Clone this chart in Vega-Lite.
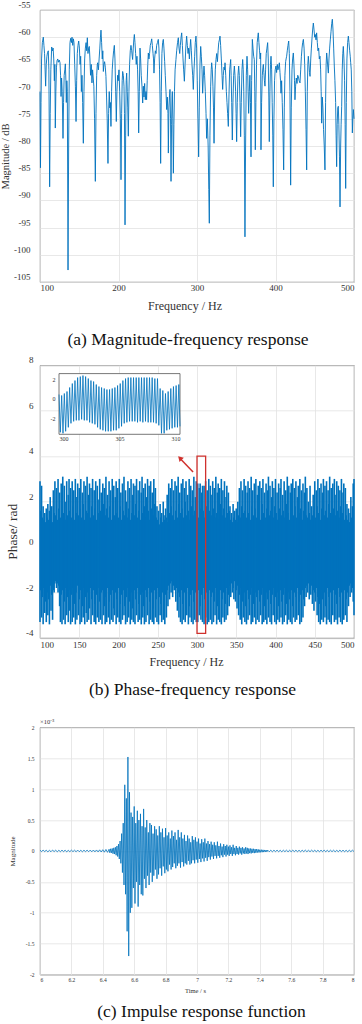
{
"$schema": "https://vega.github.io/schema/vega-lite/v6.json",
"padding": 0,
"background": "white",
"config": {
  "view": {"stroke": "#555555", "strokeWidth": 0.8},
  "axis": {"grid": true, "gridColor": "#e2e2e2", "gridWidth": 0.8, "domain": false, "ticks": false, "labelOverlap": false, "tickCount": 30, "labelFont": "Liberation Serif", "titleFont": "Liberation Serif", "labelColor": "#333333", "titleColor": "#333333", "titleFontWeight": "normal"},
  "title": {"font": "Liberation Serif", "fontWeight": "normal", "color": "#111111"}
},
"datasets": {
"mag": [
{"f":100,"m":-70},{"f":100.6,"m":-84},{"f":101.3,"m":-72},{"f":102,"m":-64},{"f":103,"m":-61},{"f":104.2,"m":-60},{"f":105,"m":-61.5},{"f":105.8,"m":-63},{"f":106.5,"m":-66},{"f":107.2,"m":-69},{"f":108,"m":-65},{"f":108.8,"m":-63.5},{"f":109.6,"m":-62.8},{"f":110.6,"m":-62.5},{"f":111.3,"m":-66},{"f":112.3,"m":-87.5},{"f":113,"m":-74},{"f":113.8,"m":-66},{"f":114.9,"m":-61.8},{"f":115.8,"m":-62.5},{"f":116.7,"m":-62},{"f":117.5,"m":-64},{"f":118.3,"m":-68},{"f":118.9,"m":-65},{"f":119.5,"m":-76.7},{"f":120.2,"m":-70},{"f":121,"m":-65.5},{"f":121.7,"m":-64.3},{"f":122.6,"m":-64},{"f":123.5,"m":-64.6},{"f":124.5,"m":-64.2},{"f":125.5,"m":-64.7},{"f":126.2,"m":-67},{"f":126.8,"m":-70.9},{"f":127.5,"m":-67.5},{"f":128.3,"m":-70},{"f":129.3,"m":-78.6},{"f":130,"m":-72},{"f":130.8,"m":-67},{"f":131.6,"m":-66},{"f":132.3,"m":-64.9},{"f":133,"m":-68},{"f":133.5,"m":-72},{"f":134.2,"m":-68},{"f":134.8,"m":-70},{"f":135.7,"m":-102.8},{"f":136.5,"m":-80},{"f":137.3,"m":-66},{"f":138.2,"m":-61},{"f":139.1,"m":-60.2},{"f":140,"m":-61},{"f":140.8,"m":-60},{"f":141.7,"m":-61.5},{"f":142.5,"m":-60.3},{"f":143.3,"m":-61},{"f":144.2,"m":-65},{"f":145.1,"m":-69},{"f":145.9,"m":-75.5},{"f":146.7,"m":-68},{"f":147.5,"m":-63},{"f":148.4,"m":-61.5},{"f":149.3,"m":-60.7},{"f":150.2,"m":-62},{"f":151,"m":-65},{"f":151.8,"m":-63.5},{"f":152.7,"m":-70},{"f":153.5,"m":-67},{"f":154.3,"m":-72},{"f":155.2,"m":-79.5},{"f":156,"m":-70},{"f":156.9,"m":-64},{"f":157.8,"m":-62},{"f":158.7,"m":-61},{"f":159.5,"m":-62.5},{"f":160.3,"m":-60.1},{"f":161.1,"m":-63},{"f":162,"m":-62},{"f":162.8,"m":-61.7},{"f":163.6,"m":-64},{"f":164.4,"m":-67},{"f":165.3,"m":-65},{"f":166.2,"m":-68.4},{"f":167,"m":-66},{"f":167.8,"m":-67.5},{"f":168.6,"m":-69},{"f":169.5,"m":-75},{"f":170.5,"m":-86.5},{"f":171.3,"m":-74},{"f":172.2,"m":-67},{"f":173,"m":-65},{"f":173.5,"m":-64.7},{"f":174.4,"m":-66},{"f":175.3,"m":-64},{"f":176.2,"m":-62},{"f":177,"m":-60},{"f":177.7,"m":-58.7},{"f":178.5,"m":-61},{"f":179.3,"m":-64},{"f":180,"m":-62.5},{"f":180.7,"m":-66.3},{"f":181.5,"m":-65},{"f":182.3,"m":-64.5},{"f":183.2,"m":-65.5},{"f":184,"m":-67.2},{"f":184.8,"m":-71},{"f":185.6,"m":-75},{"f":186.6,"m":-83.2},{"f":187.4,"m":-74},{"f":188.2,"m":-70},{"f":189,"m":-73},{"f":189.6,"m":-72},{"f":190.4,"m":-76.4},{"f":191.2,"m":-70},{"f":192,"m":-66},{"f":192.9,"m":-64},{"f":193.8,"m":-62.5},{"f":194.7,"m":-61.5},{"f":195.5,"m":-64},{"f":196.4,"m":-70},{"f":197.2,"m":-75.5},{"f":198,"m":-70},{"f":198.9,"m":-67},{"f":199.7,"m":-68},{"f":200.6,"m":-66},{"f":201.5,"m":-70},{"f":202.4,"m":-75},{"f":203.2,"m":-86.2},{"f":204,"m":-74},{"f":204.7,"m":-68},{"f":205.3,"m":-66.3},{"f":206.2,"m":-67},{"f":207,"m":-69},{"f":207.6,"m":-74},{"f":208.3,"m":-94.5},{"f":209.1,"m":-78},{"f":209.8,"m":-68},{"f":210.4,"m":-66.6},{"f":211.2,"m":-70},{"f":211.8,"m":-73},{"f":212.5,"m":-78.2},{"f":213.3,"m":-70},{"f":214.1,"m":-65},{"f":215,"m":-62.5},{"f":215.9,"m":-61.5},{"f":216.8,"m":-62.5},{"f":217.5,"m":-63.5},{"f":218,"m":-64.1},{"f":218.8,"m":-62},{"f":219.5,"m":-60.5},{"f":220.2,"m":-59.5},{"f":221,"m":-61},{"f":221.8,"m":-63},{"f":222.6,"m":-65},{"f":223.5,"m":-63.5},{"f":224.3,"m":-66},{"f":225,"m":-70},{"f":225.7,"m":-77.6},{"f":226.5,"m":-70},{"f":227.4,"m":-62},{"f":228.2,"m":-64},{"f":229,"m":-67},{"f":229.9,"m":-69},{"f":230.8,"m":-72.1},{"f":231.6,"m":-69},{"f":232.5,"m":-71},{"f":233.3,"m":-68.5},{"f":234.1,"m":-71.5},{"f":235,"m":-70},{"f":235.8,"m":-71.5},{"f":236.6,"m":-68},{"f":237.3,"m":-65},{"f":238,"m":-62.9},{"f":238.8,"m":-64},{"f":239.6,"m":-63},{"f":240.5,"m":-61.5},{"f":241.4,"m":-61},{"f":242.3,"m":-60.3},{"f":243.1,"m":-61.5},{"f":244,"m":-63},{"f":244.6,"m":-64},{"f":245.2,"m":-66.6},{"f":246,"m":-64},{"f":246.9,"m":-62.5},{"f":247.8,"m":-63},{"f":248.6,"m":-61.5},{"f":249.6,"m":-61},{"f":250.7,"m":-60.4},{"f":251.5,"m":-62},{"f":252.3,"m":-66},{"f":253,"m":-72},{"f":253.7,"m":-83.2},{"f":254.5,"m":-70},{"f":255.3,"m":-63},{"f":256.2,"m":-61},{"f":257.1,"m":-60.4},{"f":257.9,"m":-62},{"f":258.8,"m":-64.5},{"f":259.6,"m":-67},{"f":260.5,"m":-70},{"f":261.4,"m":-73.3},{"f":262.2,"m":-71},{"f":263,"m":-74},{"f":263.5,"m":-81.3},{"f":264.2,"m":-73},{"f":264.9,"m":-71},{"f":265.6,"m":-69.6},{"f":266.3,"m":-75},{"f":266.9,"m":-86.5},{"f":267.6,"m":-76},{"f":268.2,"m":-71},{"f":268.6,"m":-70},{"f":269.2,"m":-75},{"f":269.9,"m":-85},{"f":270.6,"m":-76},{"f":271.3,"m":-70},{"f":272.1,"m":-66},{"f":273.2,"m":-64.1},{"f":274.1,"m":-62.5},{"f":275.2,"m":-61},{"f":276.2,"m":-60.1},{"f":277.1,"m":-62},{"f":278,"m":-63},{"f":278.8,"m":-61.5},{"f":279.7,"m":-60},{"f":280.5,"m":-59.2},{"f":281.4,"m":-61.5},{"f":282.2,"m":-64},{"f":283,"m":-66},{"f":283.9,"m":-68.1},{"f":284.8,"m":-65},{"f":285.7,"m":-62},{"f":286.8,"m":-59.8},{"f":287.7,"m":-61.5},{"f":288.6,"m":-63},{"f":289.4,"m":-62},{"f":290.3,"m":-64},{"f":291.1,"m":-62},{"f":291.9,"m":-60.4},{"f":292.8,"m":-62.5},{"f":293.6,"m":-65},{"f":294.5,"m":-67},{"f":295.3,"m":-69.6},{"f":296.2,"m":-66},{"f":297,"m":-63.5},{"f":297.8,"m":-61},{"f":298.7,"m":-59.8},{"f":299.5,"m":-62},{"f":300.3,"m":-68},{"f":301.2,"m":-75},{"f":302.1,"m":-82},{"f":302.9,"m":-73},{"f":303.8,"m":-65},{"f":304.7,"m":-61.7},{"f":305.5,"m":-63.5},{"f":306.4,"m":-66},{"f":307.2,"m":-70.3},{"f":308,"m":-67.5},{"f":308.9,"m":-65.3},{"f":309.7,"m":-67},{"f":310.6,"m":-70},{"f":311.5,"m":-74},{"f":312.3,"m":-78.6},{"f":313.2,"m":-75},{"f":314.2,"m":-80},{"f":315,"m":-88},{"f":315.7,"m":-94.2},{"f":316.5,"m":-78},{"f":317.4,"m":-69},{"f":318.1,"m":-66},{"f":318.7,"m":-64.7},{"f":319.5,"m":-66},{"f":320.3,"m":-69},{"f":321,"m":-73},{"f":321.7,"m":-79.5},{"f":322.5,"m":-71},{"f":323.3,"m":-66},{"f":324.2,"m":-64.1},{"f":325.1,"m":-63},{"f":326,"m":-64.5},{"f":326.9,"m":-62.5},{"f":327.7,"m":-61},{"f":328.5,"m":-60.5},{"f":329.3,"m":-59.8},{"f":330.1,"m":-61.5},{"f":331,"m":-64},{"f":331.9,"m":-67},{"f":332.7,"m":-69.6},{"f":333.5,"m":-67},{"f":334.4,"m":-65.5},{"f":335.2,"m":-66},{"f":335.7,"m":-64.7},{"f":336.6,"m":-67},{"f":337.4,"m":-70},{"f":338.2,"m":-72},{"f":339,"m":-74},{"f":339.9,"m":-76.4},{"f":340.7,"m":-71},{"f":341.6,"m":-66},{"f":342.3,"m":-65},{"f":342.9,"m":-64.1},{"f":343.5,"m":-67},{"f":344.2,"m":-72},{"f":345,"m":-78.9},{"f":345.8,"m":-72},{"f":346.7,"m":-67},{"f":347.6,"m":-65.3},{"f":348.4,"m":-67},{"f":349.2,"m":-70},{"f":349.8,"m":-74},{"f":350.5,"m":-79.2},{"f":351.3,"m":-72},{"f":352.2,"m":-67},{"f":353.1,"m":-65.3},{"f":353.9,"m":-67},{"f":354.8,"m":-72},{"f":355.6,"m":-78.3},{"f":356.4,"m":-72},{"f":357.3,"m":-66},{"f":358.2,"m":-64.1},{"f":358.9,"m":-66},{"f":359.6,"m":-70},{"f":360.3,"m":-78},{"f":361.1,"m":-96.7},{"f":361.9,"m":-80},{"f":362.8,"m":-67},{"f":363.7,"m":-63.5},{"f":364.5,"m":-66},{"f":365.1,"m":-70},{"f":365.8,"m":-74},{"f":366.6,"m":-70},{"f":367.4,"m":-67},{"f":368.1,"m":-72},{"f":368.8,"m":-82},{"f":369.6,"m":-68},{"f":370.5,"m":-60.4},{"f":371.3,"m":-62},{"f":372.2,"m":-63.5},{"f":373,"m":-64.1},{"f":373.6,"m":-70},{"f":374.3,"m":-80.7},{"f":375,"m":-72},{"f":375.8,"m":-65},{"f":376.7,"m":-61},{"f":377.4,"m":-60},{"f":378.1,"m":-59.2},{"f":378.9,"m":-61},{"f":379.7,"m":-62.5},{"f":380.4,"m":-64},{"f":381.1,"m":-62.9},{"f":381.5,"m":-80.7},{"f":382.3,"m":-72},{"f":383.2,"m":-67},{"f":384,"m":-65.5},{"f":384.5,"m":-65},{"f":385.2,"m":-66.5},{"f":385.9,"m":-68},{"f":386.6,"m":-69},{"f":387.4,"m":-66},{"f":388.2,"m":-63},{"f":389.1,"m":-62},{"f":390,"m":-61},{"f":390.8,"m":-64},{"f":391.5,"m":-71},{"f":392.1,"m":-79.2},{"f":392.9,"m":-70},{"f":393.6,"m":-65},{"f":394.3,"m":-63.5},{"f":395.1,"m":-66},{"f":395.8,"m":-72},{"f":396.5,"m":-78},{"f":397.2,"m":-87.5},{"f":398,"m":-75},{"f":398.8,"m":-68},{"f":399.6,"m":-66},{"f":400.6,"m":-65.3},{"f":401.4,"m":-66.5},{"f":402.3,"m":-65},{"f":403.1,"m":-66},{"f":404,"m":-65.5},{"f":404.9,"m":-64.7},{"f":405.7,"m":-66.5},{"f":406.4,"m":-68},{"f":407,"m":-70.3},{"f":407.8,"m":-68},{"f":408.6,"m":-72},{"f":409.5,"m":-77},{"f":410.4,"m":-84.4},{"f":411.2,"m":-73},{"f":412,"m":-67},{"f":412.9,"m":-64.5},{"f":413.5,"m":-64},{"f":414.2,"m":-63.5},{"f":415,"m":-62.5},{"f":415.9,"m":-61.5},{"f":416.8,"m":-60.7},{"f":417.6,"m":-63},{"f":418.4,"m":-70},{"f":419.3,"m":-87.2},{"f":420.1,"m":-73},{"f":421,"m":-66},{"f":421.8,"m":-64},{"f":422.7,"m":-62.9},{"f":423.5,"m":-65},{"f":424.2,"m":-68},{"f":424.8,"m":-71.5},{"f":425.6,"m":-69},{"f":426.5,"m":-67.5},{"f":427.4,"m":-68.5},{"f":428.3,"m":-67},{"f":429.1,"m":-67.2},{"f":430.1,"m":-68},{"f":431.2,"m":-68.4},{"f":432.1,"m":-66},{"f":433,"m":-63.5},{"f":433.8,"m":-62},{"f":434.6,"m":-61},{"f":435.5,"m":-60.4},{"f":436.4,"m":-62},{"f":437.2,"m":-65},{"f":438,"m":-70},{"f":438.9,"m":-77},{"f":439.7,"m":-84.4},{"f":440.5,"m":-70},{"f":441.2,"m":-65},{"f":441.8,"m":-63.5},{"f":442.6,"m":-65},{"f":443.3,"m":-66.5},{"f":444,"m":-67.2},{"f":444.9,"m":-64},{"f":445.7,"m":-62},{"f":446.6,"m":-60},{"f":447.4,"m":-58.5},{"f":448.2,"m":-57.4},{"f":449,"m":-58.5},{"f":449.9,"m":-60},{"f":450.7,"m":-59.5},{"f":451.6,"m":-60.5},{"f":452.4,"m":-59.2},{"f":453.3,"m":-61},{"f":454.1,"m":-62.5},{"f":455,"m":-62},{"f":455.8,"m":-64},{"f":456.7,"m":-63.5},{"f":457.5,"m":-66},{"f":458.2,"m":-70},{"f":458.8,"m":-75.8},{"f":459.6,"m":-71},{"f":460.4,"m":-73},{"f":461.2,"m":-77},{"f":462.1,"m":-80},{"f":463,"m":-84.4},{"f":463.8,"m":-72},{"f":464.5,"m":-65},{"f":465.2,"m":-62.9},{"f":465.9,"m":-64},{"f":466.6,"m":-65.5},{"f":467.3,"m":-66.6},{"f":468.1,"m":-64},{"f":469,"m":-62},{"f":469.8,"m":-60.5},{"f":470.7,"m":-59},{"f":471.6,"m":-57.5},{"f":472.4,"m":-56.7},{"f":473.2,"m":-58.5},{"f":474.1,"m":-62},{"f":474.9,"m":-65.3},{"f":475.7,"m":-68},{"f":476.6,"m":-72},{"f":477.2,"m":-78},{"f":477.9,"m":-83.8},{"f":478.6,"m":-76},{"f":479.3,"m":-73},{"f":480,"m":-72.7},{"f":480.7,"m":-76},{"f":481.5,"m":-82},{"f":482.2,"m":-91.2},{"f":483,"m":-80},{"f":483.6,"m":-76},{"f":484.3,"m":-72.7},{"f":485,"m":-66},{"f":485.7,"m":-63},{"f":486.4,"m":-61.7},{"f":487.2,"m":-64},{"f":488,"m":-68},{"f":488.7,"m":-76},{"f":489.4,"m":-87.8},{"f":490.2,"m":-72},{"f":491,"m":-64},{"f":491.9,"m":-61},{"f":492.8,"m":-59.8},{"f":493.6,"m":-61},{"f":494.5,"m":-62.5},{"f":495.2,"m":-63.5},{"f":495.8,"m":-64.7},{"f":496.5,"m":-66},{"f":497.2,"m":-70},{"f":497.9,"m":-77.6},{"f":498.5,"m":-75},{"f":499.2,"m":-73.3},{"f":500,"m":-75}
],
"phase": [
{"f":100,"hi":2.9,"lo":-3.3},{"f":101,"hi":1.6,"lo":-1.9},{"f":102,"hi":2.7,"lo":-3.1},{"f":103,"hi":1.3,"lo":-2.2},{"f":104,"hi":1.8,"lo":-3.4},{"f":105,"hi":1.2,"lo":-1.8},{"f":106,"hi":1.5,"lo":-2.9},{"f":107,"hi":1.1,"lo":-2.4},{"f":108,"hi":1.7,"lo":-3.3},{"f":109,"hi":1.3,"lo":-2.0},
{"f":110,"hi":1.9,"lo":-3.0},{"f":111,"hi":1.2,"lo":-2.3},{"f":112,"hi":1.6,"lo":-3.4},{"f":113,"hi":2.2,"lo":-1.7},{"f":114,"hi":1.4,"lo":-2.8},{"f":115,"hi":1.8,"lo":-2.1},{"f":116,"hi":1.1,"lo":-3.2},{"f":117,"hi":2.5,"lo":-1.9},{"f":118,"hi":1.5,"lo":-2.0},{"f":119,"hi":2.9,"lo":-1.6},
{"f":120,"hi":1.4,"lo":-1.5},{"f":121,"hi":2.6,"lo":-1.8},{"f":122,"hi":1.2,"lo":-1.6},{"f":123,"hi":3.0,"lo":-2.0},{"f":124,"hi":1.7,"lo":-1.7},{"f":125,"hi":2.4,"lo":-2.6},{"f":126,"hi":1.3,"lo":-3.3},{"f":127,"hi":2.8,"lo":-2.1},{"f":128,"hi":1.6,"lo":-3.4},{"f":129,"hi":3.1,"lo":-1.9},
{"f":130,"hi":1.5,"lo":-3.2},{"f":131,"hi":2.7,"lo":-2.4},{"f":132,"hi":2.0,"lo":-3.4},{"f":133,"hi":1.2,"lo":-1.8},{"f":134,"hi":2.9,"lo":-3.0},{"f":135,"hi":1.4,"lo":-2.2},{"f":136,"hi":2.3,"lo":-3.3},{"f":137,"hi":3.0,"lo":-1.9},{"f":138,"hi":1.6,"lo":-2.8},{"f":139,"hi":2.6,"lo":-3.4},
{"f":140,"hi":1.3,"lo":-2.1},{"f":141,"hi":2.9,"lo":-3.3},{"f":142,"hi":1.8,"lo":-1.8},{"f":143,"hi":2.5,"lo":-3.1},{"f":144,"hi":1.2,"lo":-2.5},{"f":145,"hi":3.0,"lo":-3.4},{"f":146,"hi":1.5,"lo":-2.0},{"f":147,"hi":2.2,"lo":-3.2},{"f":148,"hi":2.8,"lo":-1.7},{"f":149,"hi":1.4,"lo":-3.0},
{"f":150,"hi":2.6,"lo":-2.3},{"f":151,"hi":1.7,"lo":-3.4},{"f":152,"hi":3.0,"lo":-1.9},{"f":153,"hi":1.3,"lo":-3.3},{"f":154,"hi":2.4,"lo":-2.6},{"f":155,"hi":1.9,"lo":-3.1},{"f":156,"hi":2.9,"lo":-1.8},{"f":157,"hi":1.2,"lo":-3.4},{"f":158,"hi":2.7,"lo":-2.2},{"f":159,"hi":1.6,"lo":-2.9},
{"f":160,"hi":3.1,"lo":-3.3},{"f":161,"hi":1.5,"lo":-2.0},{"f":162,"hi":2.3,"lo":-3.2},{"f":163,"hi":2.8,"lo":-2.7},{"f":164,"hi":1.3,"lo":-1.8},{"f":165,"hi":2.6,"lo":-3.4},{"f":166,"hi":1.8,"lo":-2.3},{"f":167,"hi":3.0,"lo":-3.0},{"f":168,"hi":1.4,"lo":-1.9},{"f":169,"hi":2.5,"lo":-3.3},
{"f":170,"hi":1.7,"lo":-2.5},{"f":171,"hi":2.9,"lo":-3.4},{"f":172,"hi":1.2,"lo":-2.1},{"f":173,"hi":2.7,"lo":-3.1},{"f":174,"hi":2.1,"lo":-1.8},{"f":175,"hi":1.5,"lo":-3.3},{"f":176,"hi":3.0,"lo":-2.4},{"f":177,"hi":1.6,"lo":-3.2},{"f":178,"hi":2.4,"lo":-2.0},{"f":179,"hi":1.3,"lo":-3.4},
{"f":180,"hi":2.8,"lo":-1.9},{"f":181,"hi":1.9,"lo":-3.0},{"f":182,"hi":2.6,"lo":-2.6},{"f":183,"hi":1.4,"lo":-3.4},{"f":184,"hi":3.1,"lo":-2.2},{"f":185,"hi":1.7,"lo":-3.3},{"f":186,"hi":2.3,"lo":-1.8},{"f":187,"hi":1.3,"lo":-3.1},{"f":188,"hi":2.9,"lo":-2.4},{"f":189,"hi":1.8,"lo":-3.4},
{"f":190,"hi":2.5,"lo":-2.1},{"f":191,"hi":1.2,"lo":-3.2},{"f":192,"hi":3.0,"lo":-1.9},{"f":193,"hi":1.6,"lo":-3.3},{"f":194,"hi":2.7,"lo":-2.7},{"f":195,"hi":1.4,"lo":-3.0},{"f":196,"hi":2.2,"lo":-2.0},{"f":197,"hi":2.9,"lo":-3.4},{"f":198,"hi":1.5,"lo":-2.3},{"f":199,"hi":2.6,"lo":-3.1},
{"f":200,"hi":1.3,"lo":-1.8},{"f":201,"hi":3.0,"lo":-3.3},{"f":202,"hi":1.8,"lo":-2.5},{"f":203,"hi":2.4,"lo":-3.4},{"f":204,"hi":1.2,"lo":-2.1},{"f":205,"hi":2.8,"lo":-3.2},{"f":206,"hi":1.6,"lo":-1.9},{"f":207,"hi":3.1,"lo":-3.0},{"f":208,"hi":1.4,"lo":-2.6},{"f":209,"hi":2.5,"lo":-3.4},
{"f":210,"hi":2.0,"lo":-2.2},{"f":211,"hi":1.3,"lo":-3.3},{"f":212,"hi":2.9,"lo":-1.8},{"f":213,"hi":1.7,"lo":-3.1},{"f":214,"hi":2.6,"lo":-2.4},{"f":215,"hi":1.2,"lo":-3.4},{"f":216,"hi":3.0,"lo":-2.0},{"f":217,"hi":1.5,"lo":-3.2},{"f":218,"hi":2.3,"lo":-2.7},{"f":219,"hi":2.8,"lo":-3.3},
{"f":220,"hi":1.4,"lo":-1.9},{"f":221,"hi":2.7,"lo":-3.4},{"f":222,"hi":1.9,"lo":-2.3},{"f":223,"hi":3.0,"lo":-3.0},{"f":224,"hi":1.3,"lo":-1.8},{"f":225,"hi":2.5,"lo":-3.3},{"f":226,"hi":1.6,"lo":-2.5},{"f":227,"hi":2.9,"lo":-3.2},{"f":228,"hi":1.2,"lo":-2.1},{"f":229,"hi":2.4,"lo":-3.4},
{"f":230,"hi":3.1,"lo":-2.0},{"f":231,"hi":1.5,"lo":-3.1},{"f":232,"hi":2.6,"lo":-2.6},{"f":233,"hi":1.8,"lo":-3.4},{"f":234,"hi":2.8,"lo":-1.9},{"f":235,"hi":1.3,"lo":-3.3},{"f":236,"hi":2.2,"lo":-2.2},{"f":237,"hi":3.0,"lo":-3.0},{"f":238,"hi":1.6,"lo":-1.8},{"f":239,"hi":2.7,"lo":-3.4},
{"f":240,"hi":1.2,"lo":-2.4},{"f":241,"hi":2.9,"lo":-3.2},{"f":242,"hi":1.7,"lo":-2.0},{"f":243,"hi":2.4,"lo":-3.3},{"f":244,"hi":1.4,"lo":-2.7},{"f":245,"hi":3.0,"lo":-3.4},{"f":246,"hi":1.9,"lo":-1.9},{"f":247,"hi":2.6,"lo":-3.1},{"f":248,"hi":1.3,"lo":-2.3},{"f":249,"hi":1.8,"lo":-3.3},
{"f":250,"hi":1.2,"lo":-1.8},{"f":251,"hi":1.6,"lo":-3.4},{"f":252,"hi":1.0,"lo":-2.2},{"f":253,"hi":1.9,"lo":-3.0},{"f":254,"hi":1.3,"lo":-2.5},{"f":255,"hi":1.5,"lo":-3.3},{"f":256,"hi":1.1,"lo":-2.0},{"f":257,"hi":2.0,"lo":-3.2},{"f":258,"hi":1.4,"lo":-2.4},{"f":259,"hi":1.2,"lo":-3.4},
{"f":260,"hi":1.7,"lo":-2.1},{"f":261,"hi":1.3,"lo":-3.1},{"f":262,"hi":2.3,"lo":-1.9},{"f":263,"hi":1.1,"lo":-2.6},{"f":264,"hi":2.8,"lo":-1.7},{"f":265,"hi":1.5,"lo":-2.3},{"f":266,"hi":2.6,"lo":-1.6},{"f":267,"hi":1.8,"lo":-2.0},{"f":268,"hi":3.0,"lo":-1.5},{"f":269,"hi":1.4,"lo":-2.2},
{"f":270,"hi":2.5,"lo":-1.7},{"f":271,"hi":1.2,"lo":-1.9},{"f":272,"hi":2.9,"lo":-1.6},{"f":273,"hi":1.6,"lo":-2.4},{"f":274,"hi":2.7,"lo":-1.8},{"f":275,"hi":1.3,"lo":-2.8},{"f":276,"hi":3.1,"lo":-2.0},{"f":277,"hi":1.9,"lo":-3.1},{"f":278,"hi":2.4,"lo":-2.2},{"f":279,"hi":1.5,"lo":-3.3},
{"f":280,"hi":2.8,"lo":-1.9},{"f":281,"hi":1.7,"lo":-3.4},{"f":282,"hi":3.0,"lo":-2.5},{"f":283,"hi":1.3,"lo":-3.2},{"f":284,"hi":2.6,"lo":-2.0},{"f":285,"hi":2.0,"lo":-3.3},{"f":286,"hi":2.9,"lo":-2.3},{"f":287,"hi":1.4,"lo":-3.0},{"f":288,"hi":2.3,"lo":-1.8},{"f":289,"hi":1.6,"lo":-3.4},
{"f":290,"hi":3.0,"lo":-2.6},{"f":291,"hi":1.2,"lo":-3.1},{"f":292,"hi":2.7,"lo":-2.1},{"f":293,"hi":1.8,"lo":-3.3},{"f":294,"hi":2.5,"lo":-1.9},{"f":295,"hi":1.4,"lo":-3.4},{"f":296,"hi":3.1,"lo":-2.4},{"f":297,"hi":1.6,"lo":-3.2},{"f":298,"hi":2.2,"lo":-2.0},{"f":299,"hi":2.9,"lo":-3.3},
{"f":300,"hi":1.5,"lo":-2.2},{"f":301,"hi":2.8,"lo":-3.3},{"f":302,"hi":1.3,"lo":-1.9},{"f":303,"hi":2.6,"lo":-3.0},{"f":304,"hi":2.8,"lo":-2.6},{"f":305,"hi":1.7,"lo":-3.2},{"f":306,"hi":2.4,"lo":-2.1},{"f":307,"hi":2.7,"lo":-3.3},{"f":308,"hi":1.6,"lo":-1.8},{"f":309,"hi":2.7,"lo":-3.4},
{"f":310,"hi":1.3,"lo":-2.3},{"f":311,"hi":2.9,"lo":-3.1},{"f":312,"hi":1.8,"lo":-2.0},{"f":313,"hi":2.5,"lo":-3.4},{"f":314,"hi":1.2,"lo":-2.5},{"f":315,"hi":3.0,"lo":-3.3},{"f":316,"hi":1.6,"lo":-1.9},{"f":317,"hi":2.7,"lo":-3.2},{"f":318,"hi":1.4,"lo":-2.2},{"f":319,"hi":2.3,"lo":-3.4},
{"f":320,"hi":2.9,"lo":-2.0},{"f":321,"hi":1.7,"lo":-3.3},{"f":322,"hi":2.6,"lo":-2.4},{"f":323,"hi":1.3,"lo":-3.0},{"f":324,"hi":3.1,"lo":-1.8},{"f":325,"hi":1.5,"lo":-3.4},{"f":326,"hi":2.4,"lo":-2.6},{"f":327,"hi":2.8,"lo":-3.2},{"f":328,"hi":1.2,"lo":-2.1},{"f":329,"hi":2.6,"lo":-3.3},
{"f":330,"hi":1.9,"lo":-1.9},{"f":331,"hi":3.0,"lo":-3.4},{"f":332,"hi":1.4,"lo":-2.3},{"f":333,"hi":2.5,"lo":-3.1},{"f":334,"hi":1.7,"lo":-2.0},{"f":335,"hi":2.9,"lo":-3.3},{"f":336,"hi":1.3,"lo":-2.5},{"f":337,"hi":2.2,"lo":-3.2},{"f":338,"hi":2.7,"lo":-1.8},{"f":339,"hi":1.5,"lo":-3.0},
{"f":340,"hi":2.4,"lo":-2.1},{"f":341,"hi":1.6,"lo":-2.6},{"f":342,"hi":1.8,"lo":-1.7},{"f":343,"hi":1.2,"lo":-2.2},{"f":344,"hi":1.5,"lo":-1.6},{"f":345,"hi":1.1,"lo":-2.0},{"f":346,"hi":1.9,"lo":-1.8},{"f":347,"hi":1.3,"lo":-2.3},{"f":348,"hi":1.6,"lo":-1.5},{"f":349,"hi":1.2,"lo":-2.4},
{"f":350,"hi":1.7,"lo":-1.9},{"f":351,"hi":1.1,"lo":-2.7},{"f":352,"hi":2.0,"lo":-1.7},{"f":353,"hi":1.4,"lo":-3.0},{"f":354,"hi":2.6,"lo":-2.1},{"f":355,"hi":1.3,"lo":-3.2},{"f":356,"hi":2.9,"lo":-1.8},{"f":357,"hi":1.8,"lo":-3.4},{"f":358,"hi":2.5,"lo":-2.4},{"f":359,"hi":1.5,"lo":-3.1},
{"f":360,"hi":3.0,"lo":-2.0},{"f":361,"hi":1.6,"lo":-3.3},{"f":362,"hi":2.7,"lo":-2.6},{"f":363,"hi":1.3,"lo":-3.4},{"f":364,"hi":2.4,"lo":-1.9},{"f":365,"hi":2.9,"lo":-3.2},{"f":366,"hi":1.5,"lo":-2.3},{"f":367,"hi":2.6,"lo":-3.0},{"f":368,"hi":1.2,"lo":-2.1},{"f":369,"hi":3.1,"lo":-3.4},
{"f":370,"hi":1.8,"lo":-1.8},{"f":371,"hi":2.5,"lo":-3.3},{"f":372,"hi":1.4,"lo":-2.5},{"f":373,"hi":2.8,"lo":-3.1},{"f":374,"hi":1.7,"lo":-2.0},{"f":375,"hi":3.0,"lo":-3.4},{"f":376,"hi":1.3,"lo":-2.2},{"f":377,"hi":2.3,"lo":-3.2},{"f":378,"hi":2.7,"lo":-1.9},{"f":379,"hi":1.6,"lo":-3.3},
{"f":380,"hi":2.9,"lo":-2.4},{"f":381,"hi":1.2,"lo":-3.0},{"f":382,"hi":2.6,"lo":-2.1},{"f":383,"hi":1.9,"lo":-3.4},{"f":384,"hi":3.0,"lo":-1.8},{"f":385,"hi":1.5,"lo":-3.3},{"f":386,"hi":2.4,"lo":-2.6},{"f":387,"hi":1.3,"lo":-3.2},{"f":388,"hi":2.8,"lo":-2.0},{"f":389,"hi":1.7,"lo":-3.4},
{"f":390,"hi":2.5,"lo":-2.3},{"f":391,"hi":3.1,"lo":-3.1},{"f":392,"hi":1.4,"lo":-1.9},{"f":393,"hi":2.7,"lo":-3.3},{"f":394,"hi":1.6,"lo":-2.5},{"f":395,"hi":2.2,"lo":-3.4},{"f":396,"hi":2.9,"lo":-2.1},{"f":397,"hi":1.3,"lo":-3.0},{"f":398,"hi":2.6,"lo":-1.8},{"f":399,"hi":1.8,"lo":-3.3},
{"f":400,"hi":3.0,"lo":-2.2},{"f":401,"hi":1.5,"lo":-3.4},{"f":402,"hi":2.4,"lo":-2.0},{"f":403,"hi":1.2,"lo":-3.2},{"f":404,"hi":2.8,"lo":-2.6},{"f":405,"hi":1.7,"lo":-3.3},{"f":406,"hi":2.6,"lo":-1.9},{"f":407,"hi":3.0,"lo":-3.1},{"f":408,"hi":1.4,"lo":-2.4},{"f":409,"hi":2.3,"lo":-3.4},
{"f":410,"hi":1.6,"lo":-2.1},{"f":411,"hi":2.9,"lo":-3.3},{"f":412,"hi":1.3,"lo":-1.8},{"f":413,"hi":2.5,"lo":-3.0},{"f":414,"hi":1.9,"lo":-2.5},{"f":415,"hi":3.1,"lo":-3.4},{"f":416,"hi":1.5,"lo":-2.0},{"f":417,"hi":2.7,"lo":-3.2},{"f":418,"hi":1.2,"lo":-2.3},{"f":419,"hi":2.4,"lo":-3.3},
{"f":420,"hi":2.8,"lo":-1.9},{"f":421,"hi":1.6,"lo":-3.4},{"f":422,"hi":3.0,"lo":-2.6},{"f":423,"hi":1.4,"lo":-3.1},{"f":424,"hi":2.6,"lo":-2.0},{"f":425,"hi":1.8,"lo":-3.3},{"f":426,"hi":2.9,"lo":-2.2},{"f":427,"hi":1.3,"lo":-3.2},{"f":428,"hi":2.2,"lo":-1.8},{"f":429,"hi":2.7,"lo":-3.0},
{"f":430,"hi":1.5,"lo":-2.4},{"f":431,"hi":3.0,"lo":-3.4},{"f":432,"hi":1.7,"lo":-2.1},{"f":433,"hi":2.5,"lo":-3.3},{"f":434,"hi":1.2,"lo":-1.9},{"f":435,"hi":2.8,"lo":-3.1},{"f":436,"hi":1.6,"lo":-2.3},{"f":437,"hi":2.4,"lo":-2.6},{"f":438,"hi":3.1,"lo":-1.8},{"f":439,"hi":1.4,"lo":-2.2},
{"f":440,"hi":2.6,"lo":-1.7},{"f":441,"hi":1.3,"lo":-2.0},{"f":442,"hi":2.0,"lo":-1.6},{"f":443,"hi":1.5,"lo":-2.3},{"f":444,"hi":2.7,"lo":-1.8},{"f":445,"hi":1.2,"lo":-2.1},{"f":446,"hi":1.8,"lo":-1.7},{"f":447,"hi":1.4,"lo":-2.5},{"f":448,"hi":2.3,"lo":-1.9},{"f":449,"hi":1.6,"lo":-2.8},
{"f":450,"hi":2.9,"lo":-2.0},{"f":451,"hi":1.3,"lo":-2.4},{"f":452,"hi":2.5,"lo":-1.8},{"f":453,"hi":1.8,"lo":-3.0},{"f":454,"hi":3.0,"lo":-2.2},{"f":455,"hi":1.5,"lo":-3.3},{"f":456,"hi":2.6,"lo":-2.5},{"f":457,"hi":1.2,"lo":-3.4},{"f":458,"hi":2.8,"lo":-1.9},{"f":459,"hi":1.7,"lo":-3.2},
{"f":460,"hi":2.4,"lo":-2.3},{"f":461,"hi":3.0,"lo":-3.3},{"f":462,"hi":1.4,"lo":-2.0},{"f":463,"hi":2.7,"lo":-3.1},{"f":464,"hi":1.6,"lo":-2.6},{"f":465,"hi":2.9,"lo":-3.4},{"f":466,"hi":1.3,"lo":-1.8},{"f":467,"hi":2.5,"lo":-3.2},{"f":468,"hi":1.9,"lo":-2.2},{"f":469,"hi":3.1,"lo":-3.3},
{"f":470,"hi":1.5,"lo":-2.0},{"f":471,"hi":2.6,"lo":-3.4},{"f":472,"hi":1.2,"lo":-2.4},{"f":473,"hi":2.8,"lo":-3.0},{"f":474,"hi":1.7,"lo":-1.9},{"f":475,"hi":3.0,"lo":-3.3},{"f":476,"hi":1.4,"lo":-2.1},{"f":477,"hi":2.3,"lo":-3.2},{"f":478,"hi":2.9,"lo":-2.5},{"f":479,"hi":1.6,"lo":-3.4},
{"f":480,"hi":2.7,"lo":-1.8},{"f":481,"hi":1.3,"lo":-3.1},{"f":482,"hi":2.5,"lo":-2.2},{"f":483,"hi":1.8,"lo":-3.3},{"f":484,"hi":3.0,"lo":-2.0},{"f":485,"hi":1.5,"lo":-3.4},{"f":486,"hi":2.4,"lo":-2.6},{"f":487,"hi":2.8,"lo":-3.2},{"f":488,"hi":1.2,"lo":-1.9},{"f":489,"hi":2.6,"lo":-3.0},
{"f":490,"hi":1.4,"lo":-2.3},{"f":491,"hi":1.9,"lo":-3.3},{"f":492,"hi":1.2,"lo":-2.0},{"f":493,"hi":1.7,"lo":-2.6},{"f":494,"hi":1.1,"lo":-1.7},{"f":495,"hi":1.5,"lo":-2.2},{"f":496,"hi":2.2,"lo":-1.6},{"f":497,"hi":1.3,"lo":-2.0},{"f":498,"hi":1.8,"lo":-1.8},{"f":499,"hi":2.8,"lo":-2.4},
{"f":500,"hi":3.0,"lo":-3.0}
],
"inset": [
{"f":300.00,"p":0.9},{"f":300.11,"p":-2.9},{"f":300.22,"p":0.8},{"f":300.33,"p":-3.0},{"f":300.44,"p":1.0},{"f":300.55,"p":-2.8},{"f":300.66,"p":1.2},{"f":300.77,"p":-2.4},{"f":300.88,"p":1.6},{"f":300.99,"p":-2.0},
{"f":301.10,"p":2.0},{"f":301.21,"p":-1.8},{"f":301.32,"p":2.3},{"f":301.43,"p":-1.7},{"f":301.54,"p":2.6},{"f":301.65,"p":-1.7},{"f":301.76,"p":2.7},{"f":301.87,"p":-1.6},{"f":301.98,"p":2.8},{"f":302.09,"p":-1.7},
{"f":302.20,"p":2.7},{"f":302.31,"p":-1.7},{"f":302.42,"p":2.5},{"f":302.53,"p":-1.9},{"f":302.64,"p":2.3},{"f":302.75,"p":-2.0},{"f":302.86,"p":2.2},{"f":302.97,"p":-2.1},{"f":303.08,"p":1.9},{"f":303.19,"p":-2.4},
{"f":303.30,"p":1.7},{"f":303.41,"p":-2.6},{"f":303.52,"p":1.6},{"f":303.63,"p":-2.7},{"f":303.74,"p":1.5},{"f":303.85,"p":-2.8},{"f":303.96,"p":1.4},{"f":304.07,"p":-2.8},{"f":304.18,"p":1.4},{"f":304.29,"p":-2.8},
{"f":304.40,"p":1.5},{"f":304.51,"p":-2.7},{"f":304.62,"p":1.6},{"f":304.73,"p":-2.7},{"f":304.84,"p":1.8},{"f":304.95,"p":-2.5},{"f":305.06,"p":2.0},{"f":305.17,"p":-2.3},{"f":305.28,"p":2.3},{"f":305.39,"p":-2.0},
{"f":305.50,"p":2.5},{"f":305.61,"p":-1.9},{"f":305.72,"p":2.6},{"f":305.83,"p":-1.8},{"f":305.94,"p":2.6},{"f":306.05,"p":-1.8},{"f":306.16,"p":2.6},{"f":306.27,"p":-1.8},{"f":306.38,"p":2.6},{"f":306.49,"p":-1.9},
{"f":306.60,"p":2.6},{"f":306.71,"p":-1.8},{"f":306.82,"p":2.6},{"f":306.93,"p":-1.9},{"f":307.04,"p":2.6},{"f":307.15,"p":-1.8},{"f":307.26,"p":2.6},{"f":307.37,"p":-1.9},{"f":307.48,"p":2.6},{"f":307.59,"p":-1.9},
{"f":307.70,"p":2.6},{"f":307.81,"p":-1.9},{"f":307.92,"p":2.5},{"f":308.03,"p":-2.0},{"f":308.14,"p":2.5},{"f":308.25,"p":-2.2},{"f":308.36,"p":1.5},{"f":308.47,"p":-3.0},{"f":308.58,"p":1.3},{"f":308.69,"p":-3.0},
{"f":308.80,"p":1.0},{"f":308.91,"p":-2.7},{"f":309.02,"p":1.2},{"f":309.13,"p":-2.6},{"f":309.24,"p":1.5},{"f":309.35,"p":-2.5},{"f":309.46,"p":1.7},{"f":309.57,"p":-2.4},{"f":309.68,"p":1.8},{"f":309.79,"p":-2.4},
{"f":309.90,"p":1.9},{"f":310.00,"p":-2.3}
],
"imp": [
{"t":6.00,"v":0.012},{"t":6.01,"v":-0.012},{"t":6.02,"v":0.015},{"t":6.03,"v":-0.01},{"t":6.04,"v":0.012},{"t":6.05,"v":-0.014},{"t":6.06,"v":0.01},{"t":6.07,"v":-0.012},{"t":6.08,"v":0.014},{"t":6.09,"v":-0.01},
{"t":6.10,"v":0.012},{"t":6.11,"v":-0.013},{"t":6.12,"v":0.011},{"t":6.13,"v":-0.012},{"t":6.14,"v":0.013},{"t":6.15,"v":-0.011},{"t":6.16,"v":0.012},{"t":6.17,"v":-0.014},{"t":6.18,"v":0.01},{"t":6.19,"v":-0.012},
{"t":6.20,"v":0.013},{"t":6.21,"v":-0.011},{"t":6.22,"v":0.012},{"t":6.23,"v":-0.013},{"t":6.24,"v":0.014},{"t":6.25,"v":-0.012},{"t":6.26,"v":0.011},{"t":6.27,"v":-0.013},{"t":6.28,"v":0.012},{"t":6.29,"v":-0.011},
{"t":6.30,"v":0.013},{"t":6.31,"v":-0.012},{"t":6.32,"v":0.014},{"t":6.33,"v":-0.013},{"t":6.34,"v":0.015},{"t":6.35,"v":-0.014},{"t":6.36,"v":0.016},{"t":6.37,"v":-0.015},{"t":6.38,"v":0.018},{"t":6.39,"v":-0.017},
{"t":6.40,"v":0.02},{"t":6.41,"v":-0.02},{"t":6.42,"v":0.024},{"t":6.43,"v":-0.022},{"t":6.44,"v":0.028},
{"t":6.445,"v":-0.03},{"t":6.450,"v":0.035},{"t":6.455,"v":-0.03},{"t":6.460,"v":0.04},{"t":6.465,"v":-0.045},{"t":6.470,"v":0.05},{"t":6.475,"v":-0.05},{"t":6.480,"v":0.06},{"t":6.485,"v":-0.07},{"t":6.490,"v":0.08},
{"t":6.495,"v":-0.09},{"t":6.500,"v":0.11},{"t":6.505,"v":-0.13},{"t":6.510,"v":0.16},{"t":6.515,"v":-0.2},{"t":6.520,"v":0.28},{"t":6.525,"v":-0.35},{"t":6.530,"v":0.45},{"t":6.535,"v":-0.55},{"t":6.540,"v":1.07},
{"t":6.545,"v":-0.7},{"t":6.550,"v":0.85},{"t":6.555,"v":-1.3},{"t":6.560,"v":1.52},{"t":6.565,"v":-1.7},{"t":6.570,"v":0.95},{"t":6.575,"v":-1.0},{"t":6.580,"v":0.62},{"t":6.585,"v":-0.92},{"t":6.590,"v":0.55},
{"t":6.595,"v":-0.6},{"t":6.600,"v":0.72},{"t":6.605,"v":-0.85},{"t":6.610,"v":0.45},{"t":6.615,"v":-0.5},{"t":6.620,"v":0.65},{"t":6.625,"v":-0.9},{"t":6.630,"v":0.5},{"t":6.635,"v":-0.55},{"t":6.640,"v":0.6},
{"t":6.645,"v":-0.7},{"t":6.650,"v":0.4},{"t":6.655,"v":-0.72},{"t":6.660,"v":0.68},{"t":6.665,"v":-0.45},{"t":6.670,"v":0.38},{"t":6.675,"v":-0.6},{"t":6.680,"v":0.5},{"t":6.685,"v":-0.4},{"t":6.690,"v":0.3},
{"t":6.695,"v":-0.55},{"t":6.700,"v":0.45},{"t":6.705,"v":-0.35},{"t":6.710,"v":0.42},{"t":6.715,"v":-0.5},{"t":6.720,"v":0.28},{"t":6.725,"v":-0.4},{"t":6.730,"v":0.4},{"t":6.735,"v":-0.3},{"t":6.740,"v":0.35},
{"t":6.745,"v":-0.45},{"t":6.750,"v":0.25},{"t":6.755,"v":-0.38},{"t":6.760,"v":0.4},{"t":6.765,"v":-0.28},{"t":6.770,"v":0.3},{"t":6.775,"v":-0.4},{"t":6.780,"v":0.36},{"t":6.785,"v":-0.25},{"t":6.790,"v":0.22},
{"t":6.795,"v":-0.36},{"t":6.800,"v":0.37},{"t":6.805,"v":-0.3},{"t":6.810,"v":0.25},{"t":6.815,"v":-0.33},{"t":6.820,"v":0.3},{"t":6.825,"v":-0.22},{"t":6.830,"v":0.2},{"t":6.835,"v":-0.3},{"t":6.840,"v":0.33},
{"t":6.845,"v":-0.26},{"t":6.850,"v":0.24},{"t":6.855,"v":-0.2},{"t":6.860,"v":0.3},{"t":6.865,"v":-0.28},{"t":6.870,"v":0.18},{"t":6.875,"v":-0.24},{"t":6.880,"v":0.34},{"t":6.885,"v":-0.2},{"t":6.890,"v":0.22},
{"t":6.895,"v":-0.27},{"t":6.900,"v":0.3},{"t":6.905,"v":-0.18},{"t":6.910,"v":0.2},{"t":6.915,"v":-0.25},{"t":6.920,"v":0.26},{"t":6.925,"v":-0.2},{"t":6.930,"v":0.16},{"t":6.935,"v":-0.22},{"t":6.940,"v":0.25},
{"t":6.945,"v":-0.16},{"t":6.950,"v":0.2},{"t":6.955,"v":-0.22},{"t":6.960,"v":0.14},{"t":6.965,"v":-0.2},{"t":6.970,"v":0.24},{"t":6.975,"v":-0.15},{"t":6.980,"v":0.18},{"t":6.985,"v":-0.2},{"t":6.990,"v":0.22},
{"t":6.995,"v":-0.14},{"t":7.000,"v":0.15},{"t":7.005,"v":-0.19},{"t":7.010,"v":0.2},{"t":7.015,"v":-0.13},{"t":7.020,"v":0.12},{"t":7.025,"v":-0.18},{"t":7.030,"v":0.19},{"t":7.035,"v":-0.12},{"t":7.040,"v":0.14},
{"t":7.045,"v":-0.17},{"t":7.050,"v":0.2},{"t":7.055,"v":-0.11},{"t":7.060,"v":0.12},{"t":7.065,"v":-0.16},{"t":7.070,"v":0.16},{"t":7.075,"v":-0.1},{"t":7.080,"v":0.11},{"t":7.085,"v":-0.14},{"t":7.090,"v":0.15},
{"t":7.095,"v":-0.09},{"t":7.100,"v":0.1},{"t":7.105,"v":-0.13},{"t":7.110,"v":0.14},{"t":7.115,"v":-0.08},{"t":7.120,"v":0.09},{"t":7.125,"v":-0.12},{"t":7.130,"v":0.15},{"t":7.135,"v":-0.08},{"t":7.140,"v":0.08},
{"t":7.145,"v":-0.11},{"t":7.150,"v":0.12},{"t":7.155,"v":-0.07},{"t":7.160,"v":0.07},{"t":7.165,"v":-0.1},{"t":7.170,"v":0.11},{"t":7.175,"v":-0.06},{"t":7.180,"v":0.08},{"t":7.185,"v":-0.09},{"t":7.190,"v":0.1},
{"t":7.195,"v":-0.06},{"t":7.200,"v":0.07},{"t":7.205,"v":-0.08},{"t":7.210,"v":0.09},{"t":7.215,"v":-0.05},{"t":7.220,"v":0.06},{"t":7.225,"v":-0.08},{"t":7.230,"v":0.1},{"t":7.235,"v":-0.05},{"t":7.240,"v":0.05},
{"t":7.245,"v":-0.07},{"t":7.250,"v":0.08},{"t":7.255,"v":-0.05},{"t":7.260,"v":0.05},{"t":7.265,"v":-0.06},{"t":7.270,"v":0.07},{"t":7.275,"v":-0.04},{"t":7.280,"v":0.05},{"t":7.285,"v":-0.06},{"t":7.290,"v":0.06},
{"t":7.295,"v":-0.04},{"t":7.300,"v":0.04},{"t":7.305,"v":-0.05},{"t":7.310,"v":0.06},{"t":7.315,"v":-0.04},{"t":7.320,"v":0.05},{"t":7.325,"v":-0.05},{"t":7.330,"v":0.04},{"t":7.335,"v":-0.035},{"t":7.340,"v":0.04},
{"t":7.345,"v":-0.04},{"t":7.350,"v":0.035},{"t":7.355,"v":-0.03},{"t":7.360,"v":0.035},{"t":7.365,"v":-0.035},{"t":7.370,"v":0.03},{"t":7.375,"v":-0.03},{"t":7.380,"v":0.03},{"t":7.385,"v":-0.025},{"t":7.390,"v":0.025},
{"t":7.395,"v":-0.025},{"t":7.400,"v":0.02},{"t":7.405,"v":-0.022},{"t":7.410,"v":0.02},{"t":7.415,"v":-0.02},{"t":7.420,"v":0.018},{"t":7.425,"v":-0.018},{"t":7.430,"v":0.016},{"t":7.435,"v":-0.015},{"t":7.440,"v":0.015},
{"t":7.445,"v":-0.014},{"t":7.450,"v":0.014},
{"t":7.46,"v":-0.013},{"t":7.47,"v":0.012},{"t":7.48,"v":-0.013},{"t":7.49,"v":0.012},{"t":7.50,"v":-0.011},{"t":7.51,"v":0.013},{"t":7.52,"v":-0.012},{"t":7.53,"v":0.011},{"t":7.54,"v":-0.013},{"t":7.55,"v":0.012},
{"t":7.56,"v":-0.011},{"t":7.57,"v":0.012},{"t":7.58,"v":-0.013},{"t":7.59,"v":0.011},{"t":7.60,"v":-0.012},{"t":7.61,"v":0.013},{"t":7.62,"v":-0.011},{"t":7.63,"v":0.012},{"t":7.64,"v":-0.012},{"t":7.65,"v":0.011},
{"t":7.66,"v":-0.013},{"t":7.67,"v":0.012},{"t":7.68,"v":-0.011},{"t":7.69,"v":0.013},{"t":7.70,"v":-0.012},{"t":7.71,"v":0.011},{"t":7.72,"v":-0.012},{"t":7.73,"v":0.013},{"t":7.74,"v":-0.011},{"t":7.75,"v":0.012},
{"t":7.76,"v":-0.013},{"t":7.77,"v":0.011},{"t":7.78,"v":-0.012},{"t":7.79,"v":0.012},{"t":7.80,"v":-0.011},{"t":7.81,"v":0.013},{"t":7.82,"v":-0.012},{"t":7.83,"v":0.011},{"t":7.84,"v":-0.013},{"t":7.85,"v":0.012},
{"t":7.86,"v":-0.011},{"t":7.87,"v":0.012},{"t":7.88,"v":-0.013},{"t":7.89,"v":0.011},{"t":7.90,"v":-0.012},{"t":7.91,"v":0.013},{"t":7.92,"v":-0.011},{"t":7.93,"v":0.012},{"t":7.94,"v":-0.012},{"t":7.95,"v":0.011},
{"t":7.96,"v":-0.013},{"t":7.97,"v":0.012},{"t":7.98,"v":-0.011},{"t":7.99,"v":0.012},{"t":8.00,"v":-0.01}
]
},
"vconcat": [
{
  "width": 314, "height": 272,
  "title": {"text": "(a) Magnitude-frequency response", "orient": "bottom", "fontSize": 17.5, "offset": 20, "dx": -9},
  "data": {"name": "mag"},
  "mark": {"type": "line", "color": "#0072BD", "strokeWidth": 0.9},
  "encoding": {
    "x": {"field": "f", "type": "quantitative", "scale": {"domain": [100, 500], "nice": false, "zero": false},
      "axis": {"values": [100, 200, 300, 400, 500], "tickCount": 30, "format": "d", "labelOverlap": false, "title": "Frequency / Hz", "labelFontSize": 9, "titleFontSize": 12, "labelPadding": 1, "titlePadding": 8, "titleX": 144.5}},
    "y": {"field": "m", "type": "quantitative", "scale": {"domain": [-105, -55], "nice": false, "zero": false},
      "axis": {"values": [-105, -100, -95, -90, -85, -80, -75, -70, -65, -60, -55], "tickCount": 30, "format": "d", "labelOverlap": false, "labelExpr": "replace(datum.label, '\u2212', '-')", "title": "Magnitude / dB", "labelFontSize": 9, "titleFontSize": 10.5, "labelPadding": 10, "titlePadding": 3, "labelOffset": -5.5, "titleY": 146}}
  }
},
{
  "bounds": "flush",
  "spacing": 89,
  "vconcat": [
  {
    "width": 314, "height": 272.7,
    "title": {"text": "(b) Phase-frequency response", "orient": "bottom", "fontSize": 17.5, "offset": 14, "dx": -4.5},
    "layer": [
      {
        "layer": [
          {
            "data": {"name": "phase"},
            "mark": {"type": "rule", "color": "#0072BD", "strokeWidth": 1.6},
            "encoding": {
              "x": {"field": "f", "type": "quantitative", "title": "Frequency / Hz", "scale": {"domain": [100, 500], "nice": false, "zero": false},
                "axis": {"values": [100, 150, 200, 250, 300, 350, 400, 450, 500], "tickCount": 30, "format": "d", "labelOverlap": false, "labelFontSize": 9, "titleFontSize": 12, "labelPadding": 2, "titlePadding": 7, "titleX": 146}},
              "y": {"field": "lo", "type": "quantitative", "title": "Phase/ rad", "scale": {"domain": [-4, 8], "nice": false, "zero": false},
                "axis": {"values": [-4, -2, 0, 2, 4, 6, 8], "tickCount": 30, "format": "d", "labelOverlap": false, "labelExpr": "replace(datum.label, '\u2212', '-')", "labelFontSize": 9, "titleFontSize": 13.5, "labelPadding": 7, "titlePadding": 6, "labelOffset": -5.5, "titleY": 166}},
              "y2": {"field": "hi"}
            }
          },
          {
            "data": {"values": [{"x1": 300, "x2": 311, "y1": -3.8, "y2": 4}]},
            "mark": {"type": "rect", "fillOpacity": 0, "stroke": "#d0312d", "strokeWidth": 1.3},
            "encoding": {
              "x": {"field": "x1", "type": "quantitative", "title": "Frequency / Hz"},
              "x2": {"field": "x2"},
              "y": {"field": "y1", "type": "quantitative", "title": "Phase/ rad"},
              "y2": {"field": "y2"}
            }
          },
          {
            "data": {"values": [{"x1": 295, "x2": 278.5, "y1": 3.3, "y2": 3.9}]},
            "mark": {"type": "rule", "color": "#d0312d", "strokeWidth": 1.5},
            "encoding": {
              "x": {"field": "x1", "type": "quantitative", "title": "Frequency / Hz"},
              "x2": {"field": "x2"},
              "y": {"field": "y1", "type": "quantitative", "title": "Phase/ rad"},
              "y2": {"field": "y2"}
            }
          },
          {
            "data": {"values": [{"x": 278.2, "y": 3.92}]},
            "mark": {"type": "point", "shape": "triangle-up", "angle": 316, "filled": true, "color": "#d0312d", "size": 35, "opacity": 1},
            "encoding": {
              "x": {"field": "x", "type": "quantitative", "title": "Frequency / Hz"},
              "y": {"field": "y", "type": "quantitative", "title": "Phase/ rad"}
            }
          }
        ]
      },
      {
        "layer": [
          {
            "data": {"values": [{"x1": 300, "x2": 310, "y1": -3.1, "y2": 3.0}]},
            "mark": {"type": "rect", "fill": "white", "stroke": "#555555", "strokeWidth": 0.8},
            "encoding": {
              "x": {"field": "x1", "type": "quantitative", "title": null, "scale": {"domain": [300, 310], "range": [19, 140], "nice": false, "zero": false},
                "axis": {"orient": "bottom", "offset": -203.7, "values": [300, 305, 310], "tickCount": 30, "format": "d", "labelOverlap": false, "grid": false, "labelFontSize": 6, "labelPadding": 1, "title": null}},
              "x2": {"field": "x2"},
              "y": {"field": "y1", "type": "quantitative", "title": null, "scale": {"domain": [-3.1, 3.0], "range": [69, 8.3], "nice": false, "zero": false},
                "axis": {"orient": "left", "offset": -19, "values": [-2, 0, 2], "tickCount": 30, "format": "d", "labelOverlap": false, "labelExpr": "replace(datum.label, '\u2212', '-')", "grid": false, "labelFontSize": 6, "labelPadding": 4, "labelOffset": -4.5, "title": null}},
              "y2": {"field": "y2"}
            }
          },
          {
            "data": {"name": "inset"},
            "mark": {"type": "line", "color": "#0072BD", "strokeWidth": 0.8},
            "encoding": {
              "x": {"field": "f", "type": "quantitative", "title": null},
              "y": {"field": "p", "type": "quantitative", "title": null}
            }
          }
        ]
      }
    ],
    "resolve": {"scale": {"x": "independent", "y": "independent"}, "axis": {"x": "independent", "y": "independent"}}
  },
  {
    "width": 314, "height": 247.3,
    "title": {"text": "(c) Impulse response function", "orient": "bottom", "fontSize": 17.5, "offset": 9, "dx": 4.5},
    "layer": [
      {
        "data": {"name": "imp"},
        "mark": {"type": "line", "color": "#0072BD", "strokeWidth": 0.8},
        "encoding": {
          "x": {"field": "t", "type": "quantitative", "title": "Time / s", "scale": {"domain": [6, 8], "nice": false, "zero": false},
            "axis": {"values": [6, 6.2, 6.4, 6.6, 6.8, 7, 7.2, 7.4, 7.6, 7.8, 8], "tickCount": 30, "labelOverlap": false, "format": "~g", "labelFontSize": 5.5, "titleFontSize": 6.5, "labelPadding": 2.5, "titlePadding": 5, "titleX": 155}},
          "y": {"field": "v", "type": "quantitative", "title": "Magnitude", "scale": {"domain": [-2, 2], "nice": false, "zero": false},
            "axis": {"values": [-2, -1.5, -1, -0.5, 0, 0.5, 1, 1.5, 2], "tickCount": 30, "labelOverlap": false, "format": "~g", "labelExpr": "replace(datum.label, '\u2212', '-')", "labelFontSize": 5.5, "titleFontSize": 7, "labelPadding": 6, "titlePadding": 10}}
        }
      },
      {
        "data": {"values": [{}]},
        "mark": {"type": "text", "text": "\u00d710\u207b\u00b3", "align": "left", "baseline": "bottom", "fontSize": 6.5, "font": "Liberation Serif", "color": "#333333"},
        "encoding": {"x": {"datum": 6.0, "type": "quantitative"}, "y": {"datum": 2.03, "type": "quantitative"}}
      }
    ]
  }
  ]
}
],
"spacing": 83.3,
"bounds": "flush"
}
